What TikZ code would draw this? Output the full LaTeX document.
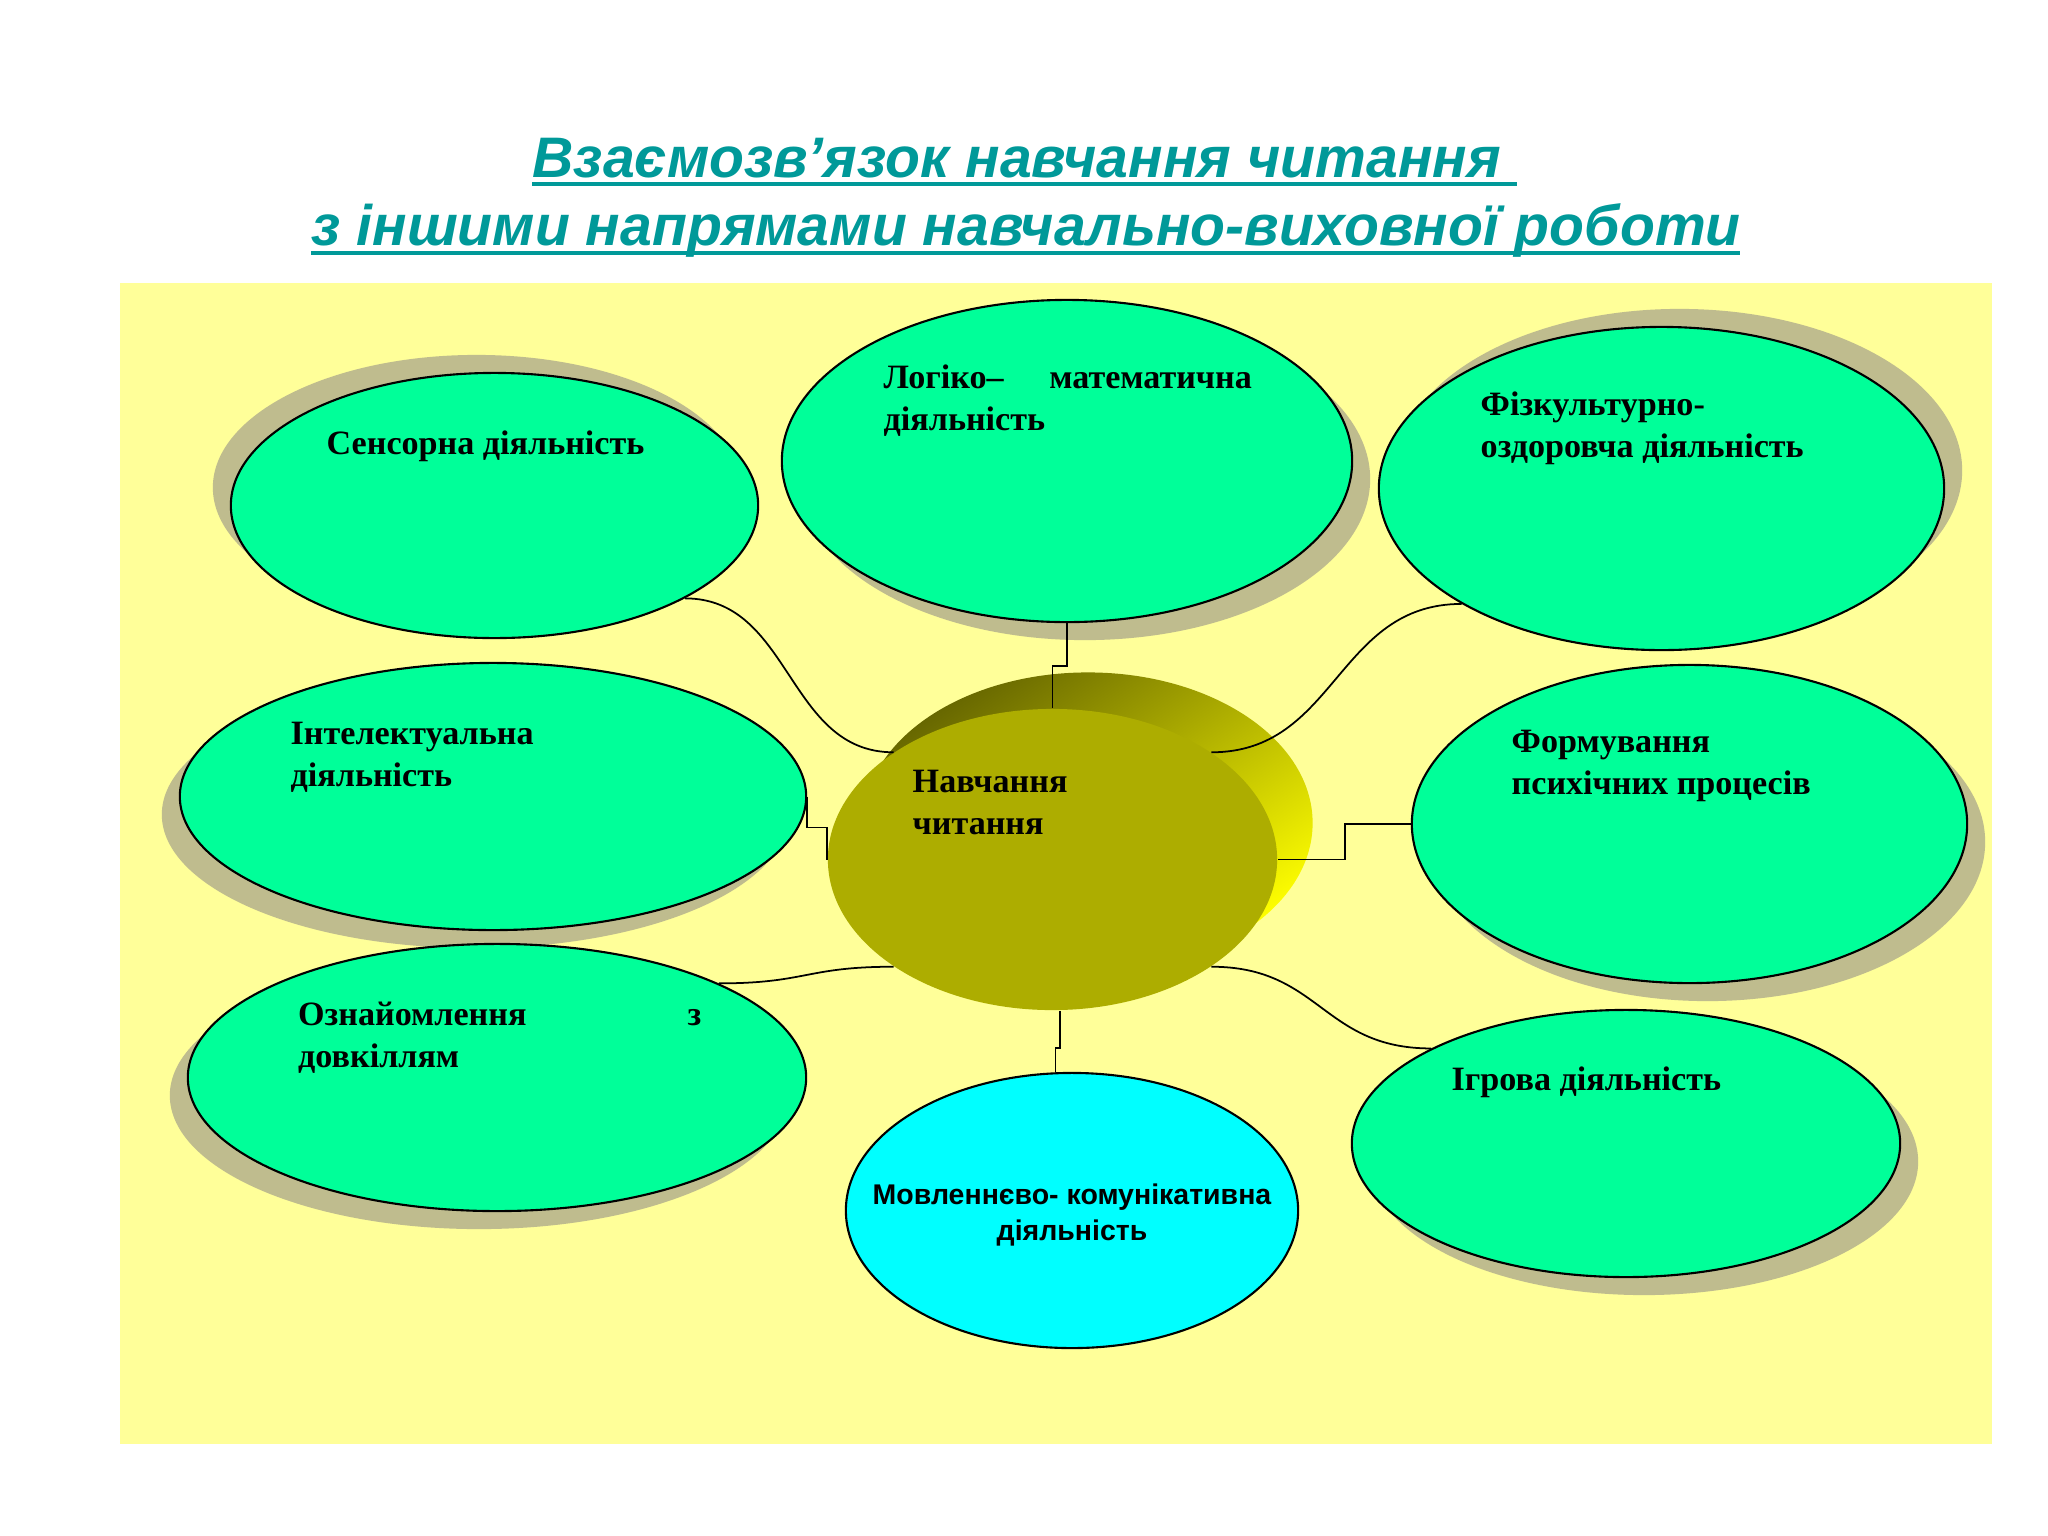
\documentclass[tikz,border=0pt]{standalone}
\usepackage{fontspec}
\setmainfont{Liberation Serif}
\setsansfont{Liberation Sans}
\usepackage{tikz}
\usetikzlibrary{shapes.geometric,shadows}

\definecolor{bgyellow}{HTML}{FFFF99}
\definecolor{blobgreen}{HTML}{00FF99}
\definecolor{blobcyan}{HTML}{00FFFF}
\definecolor{blobshadow}{HTML}{BFBC8E}
\definecolor{olivefront}{HTML}{ADAD00}
\definecolor{olivedark}{HTML}{666600}
\definecolor{titleteal}{HTML}{009999}

\begin{document}
\begin{tikzpicture}[x=0.01cm,y=-0.01cm,
  blob/.style={ellipse,draw=black,line width=0.6pt,fill=blobgreen,inner sep=0pt},
  shadowul/.style={drop shadow={shadow xshift=-1.8mm,shadow yshift=1.8mm,fill=blobshadow,opacity=1}},
  shadowur/.style={drop shadow={shadow xshift=1.8mm,shadow yshift=1.8mm,fill=blobshadow,opacity=1}},
  shadowdl/.style={drop shadow={shadow xshift=-1.8mm,shadow yshift=-1.8mm,fill=blobshadow,opacity=1}},
  shadowdr/.style={drop shadow={shadow xshift=1.8mm,shadow yshift=-1.8mm,fill=blobshadow,opacity=1}},
  lbl/.style={anchor=base west,align=left,inner sep=0pt,font=\fontsize{9.7}{11.7}\selectfont\bfseries},
  heading/.style={anchor=base west,inner sep=0pt,text=titleteal,font=\fontsize{16.25}{20}\selectfont\sffamily\bfseries\itshape},
  link/.style={draw=black,line width=0.5pt}]

% Page and yellow field
\fill[white] (0,0) rectangle (2048,1536);
\fill[bgyellow] (120,283) rectangle (1992,1444);

% Title
\node[heading] (title1) at (532,177) {Взаємозв’язок навчання читання};
\node[heading] (title2) at (311,245) {з іншими напрямами навчально-виховної роботи};
\draw[titleteal,line width=1.2pt] ([yshift=-0.07cm]title1.base west) -- ++(985,0);
\draw[titleteal,line width=1.2pt] ([yshift=-0.08cm]title2.base west) -- ++(1429,0);

% Outer ellipses
\node[blob,shadowul,minimum width=5.27cm,minimum height=2.65cm] (sens) at (494.5,505.5) {};
\node[blob,shadowdr,minimum width=5.70cm,minimum height=3.22cm] (log) at (1067,461) {};
\node[blob,shadowur,minimum width=5.65cm,minimum height=3.23cm] (fizk) at (1661.5,488.5) {};
\node[blob,shadowdl,minimum width=6.26cm,minimum height=2.67cm] (intel) at (493,796.5) {};
\node[blob,shadowdr,minimum width=5.55cm,minimum height=3.18cm] (form) at (1689.5,824) {};
\node[blob,shadowdl,minimum width=6.18cm,minimum height=2.67cm] (ozn) at (497,1077.5) {};
\node[blob,shadowdr,minimum width=5.48cm,minimum height=2.67cm] (igr) at (1626,1143.5) {};
\node[blob,fill=blobcyan,minimum width=4.52cm,minimum height=2.75cm] (mov) at (1072,1210.5) {};

% Centre disk
\node[ellipse,inner sep=0pt,minimum width=4.49cm,minimum height=3.01cm,
  top color=olivedark,bottom color=yellow,shading angle=35] (navback) at (1088,823) {};
\node[ellipse,inner sep=0pt,fill=olivefront,minimum width=4.49cm,minimum height=3.01cm] (nav) at (1052.5,859.5) {};

% Links
\draw[link] (sens.-26) .. controls +(107,0) and +(-107,0) .. (nav.146);
\draw[link] (fizk.-150) .. controls +(-125,0) and +(125,0) .. (nav.34);
\draw[link] (ozn.23) .. controls +(88,0) and +(-88,0) .. (nav.214);
\draw[link] (nav.-34) .. controls +(109,0) and +(-109,0) .. (igr.154);
\draw[link] (log.south) -- ++(0,43) -| (nav.north);
\draw[link] (intel.east) -- ++(0,31) -| (nav.west);
\draw[link] (form.west) -- ++(-66,0) |- (nav.east);
\draw[link] ([xshift=0.075cm]nav.south) -- ++(0,37) -| ([xshift=-0.165cm]mov.north);

% Labels (two-line labels sit on their last baseline)
\node[lbl] (sensT) at (326,454) {Сенсорна діяльність};
\node[lbl] (logT) at (883,430) {\makebox[3.68cm][s]{Логіко– математична}\\діяльність};
\node[lbl] (fizkT) at (1480,457) {Фізкультурно-\\оздоровча діяльність};
\node[lbl] (intelT) at (290,786) {Інтелектуальна\\діяльність};
\node[lbl] (formT) at (1511,794) {Формування\\психічних процесів};
\node[lbl] (navT) at (912,834) {Навчання\\читання};
\node[lbl] (oznT) at (297.5,1067) {\makebox[4.03cm][s]{Ознайомлення з}\\довкіллям};
\node[lbl] (igrT) at (1451,1090) {Ігрова діяльність};
\node[lbl,anchor=base,align=center,font=\fontsize{8.1}{10.2}\selectfont\sffamily\bfseries] (movT) at (1072,1240) {Мовленнєво- комунікативна\\діяльність};

\end{tikzpicture}
\end{document}
